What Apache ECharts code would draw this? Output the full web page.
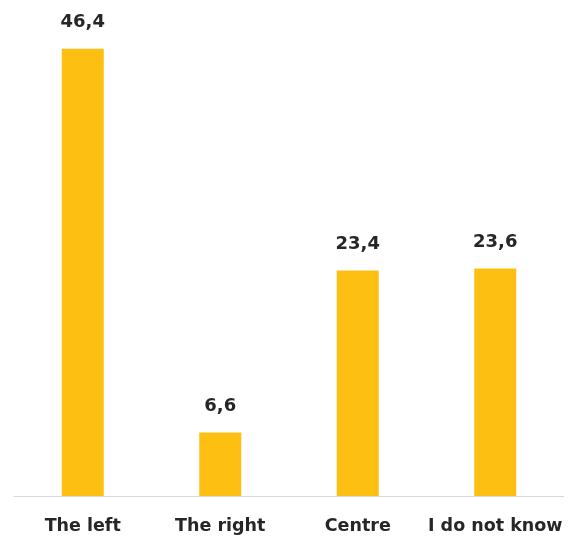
<!DOCTYPE html>
<html>
<head>
<meta charset="utf-8">
<script src="https://cdn.jsdelivr.net/npm/echarts@6/dist/echarts.min.js"></script>
<style>
html,body{margin:0;padding:0;background:#fff;}
#chart{width:568px;height:538px;}
</style>
</head>
<body>
<div id="chart"></div>
<script>
const categories = ['The left', 'The right', 'Centre', 'I do not know'];
const values = [46.4, 6.6, 23.4, 23.6];

const chart = echarts.init(document.getElementById('chart'));
chart.setOption({
  animation: false,
  grid: { left: 14, right: 4, top: 14, bottom: 42, containLabel: false },
  xAxis: {
    type: 'category',
    data: categories,
    axisLine: { show: true, lineStyle: { color: '#d9d9d9', width: 1 } },
    axisTick: { show: false },
    axisLabel: {
      interval: 0, hideOverlap: false,
      color: '#262626', fontSize: 17.5, fontWeight: 'bold',
      fontFamily: 'DejaVu Sans, sans-serif', margin: 21
    }
  },
  yAxis: {
    type: 'value', min: 0, max: 50,
    show: false,
    splitLine: { show: false }
  },
  series: [{
    type: 'bar',
    data: values,
    barWidth: 42,
    itemStyle: { color: '#FCBF12' },
    label: {
      show: true, position: 'top', distance: 17,
      color: '#262626', fontSize: 18, fontWeight: 'bold',
      fontFamily: 'DejaVu Sans, sans-serif',
      formatter: p => String(p.value.toFixed(1)).replace('.', ',')
    }
  }]
});
</script>
</body>
</html>
